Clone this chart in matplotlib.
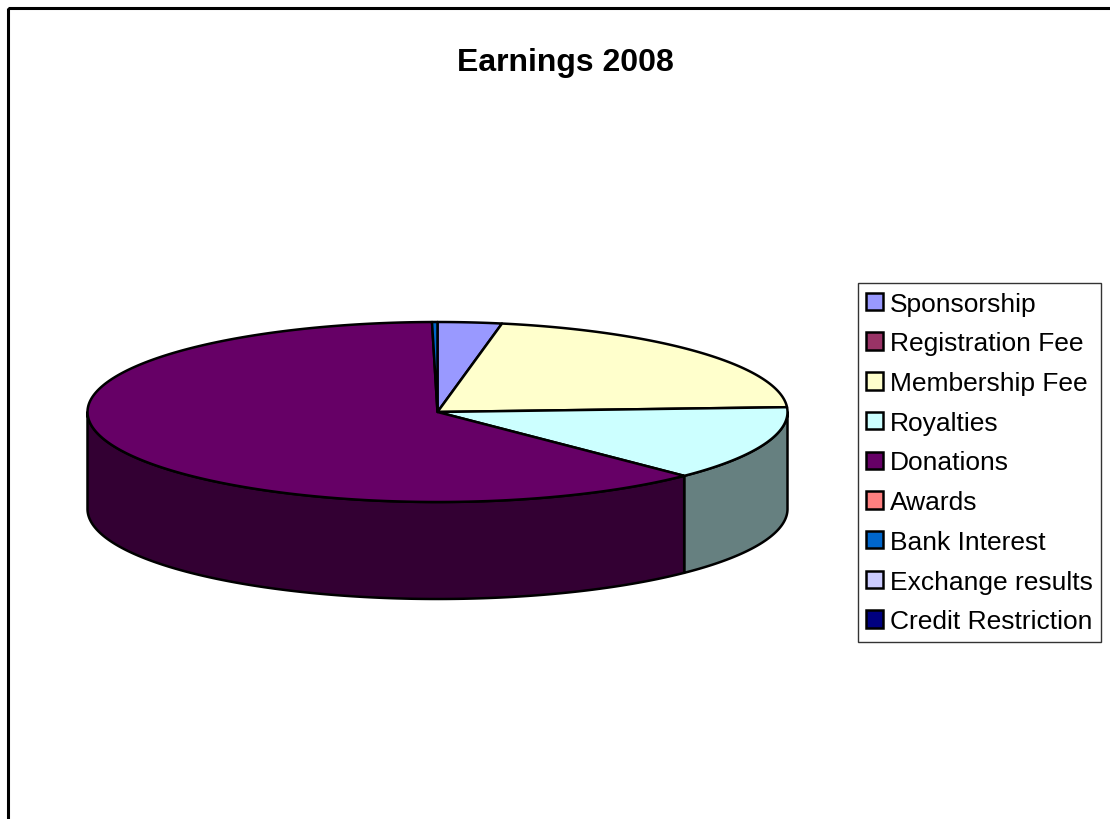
import numpy as np
import matplotlib
matplotlib.use("Agg")
import matplotlib.pyplot as plt
from matplotlib.patches import Polygon, Patch, Rectangle

plt.rcParams['font.family'] = ['Liberation Sans', 'DejaVu Sans']

categories = ["Sponsorship", "Registration Fee", "Membership Fee", "Royalties",
              "Donations", "Awards", "Bank Interest", "Exchange results",
              "Credit Restriction"]
values = [2.95, 0.0, 21.2, 13.4, 62.2, 0.0, 0.25, 0.0, 0.0]
colors = ["#9999FF", "#993366", "#FFFFCC", "#CCFFFF", "#660066",
          "#FF8080", "#0066CC", "#CCCCFF", "#000080"]
title = "Earnings 2008"

W, H = 1110, 820
fig = plt.figure(figsize=(W / 100, H / 100), dpi=100)
ax = fig.add_axes([0, 0, 1, 1])
ax.set_xlim(0, W)
ax.set_ylim(H, 0)
ax.axis("off")

# chart border
ax.add_patch(Rectangle((7.5, 8.5), W + 20, H + 20, fill=False, ec="black", lw=2.2, zorder=0))

cx, cy, a, b, depth = 437.5, 413, 350, 90, 97

def pt(theta_deg, dy=0.0):
    t = np.radians(theta_deg)
    return cx + a * np.sin(t), cy - b * np.cos(t) + dy

vals = np.array(values, dtype=float)
total = vals.sum()
ends = np.cumsum(vals) / total * 360.0
starts = ends - vals / total * 360.0

def shade(c, f=0.5):
    r, g, bb = matplotlib.colors.to_rgb(c)
    return (r * f, g * f, bb * f)

# side walls (front half: 90..270 deg)
for s, e, c, v in zip(starts, ends, colors, vals):
    if v <= 0:
        continue
    lo, hi = max(s, 90), min(e, 270)
    if hi <= lo:
        continue
    th = np.linspace(lo, hi, 200)
    top = [pt(t) for t in th]
    bot = [pt(t, depth) for t in th[::-1]]
    ax.add_patch(Polygon(top + bot, closed=True, fc=shade(c), ec="black",
                         lw=1.8, joinstyle="round", zorder=2))

# top faces
for s, e, c, v in zip(starts, ends, colors, vals):
    if v <= 0:
        continue
    th = np.linspace(s, e, max(int((e - s) * 3), 4))
    poly = [(cx, cy)] + [pt(t) for t in th]
    ax.add_patch(Polygon(poly, closed=True, fc=c, ec="black", lw=1.8,
                         joinstyle="round", zorder=3))

ax.text(565, 63, title, ha="center", va="center", fontsize=23,
        fontweight="bold")

handles = [Patch(fc=c, ec="black", lw=1.8) for c in colors]
leg = fig.legend(handles, categories, loc="center left",
                 bbox_to_anchor=(858 / W, 1 - 463.5 / H), fontsize=19,
                 frameon=True, fancybox=False, shadow=False,
                 handlelength=0.64, handleheight=0.64, handletextpad=0.25,
                 labelspacing=0.595, borderpad=0.32, borderaxespad=0)
leg.get_frame().set_edgecolor("black")
leg.get_frame().set_linewidth(1.0)

fig.savefig("out.png", dpi=100)
